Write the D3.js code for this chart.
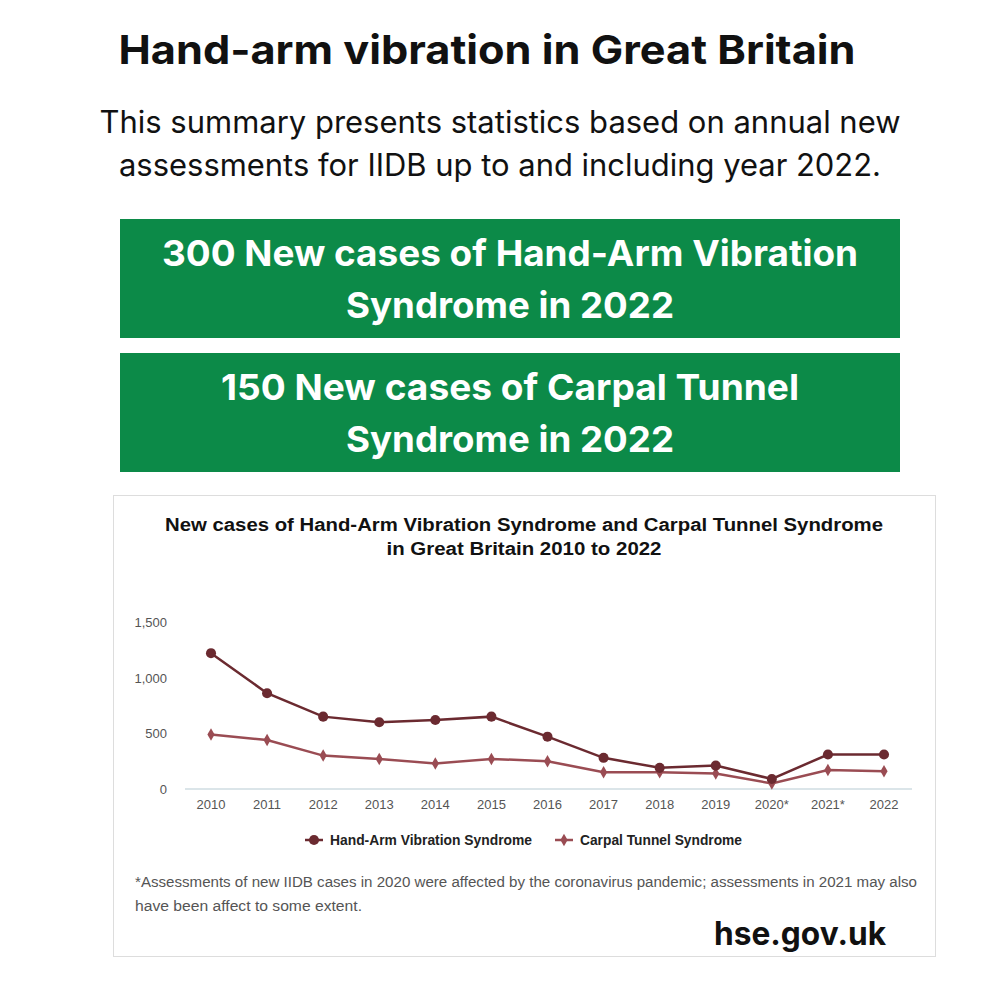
<!DOCTYPE html>
<html><head><meta charset="utf-8">
<script src="https://cdn.jsdelivr.net/npm/d3@7"></script>
<style>body{margin:0;background:#fff}</style>
</head><body>
<svg id="c" width="1000" height="1000"></svg>
<script>
var years = ["2010","2011","2012","2013","2014","2015","2016","2017","2018","2019","2020*","2021*","2022"];
var havs = [1220,860,650,600,620,650,470,280,190,210,90,310,310];
var cts = [490,440,300,270,230,270,250,150,150,140,50,170,160];
var yTicks = [0,500,1000,1500];

var svg = d3.select("#c");
var font = "Inter, 'Open Sans', sans-serif";
var cf = "'Liberation Sans', Arial, sans-serif";

function txt(x, y, s, size, opts) {
	opts = opts || {};
	var t = svg.append("text").attr("x", x).attr("y", y).attr("text-anchor", opts.anchor || "middle")
		.attr("font-family", opts.family || font).attr("font-weight", opts.weight || 400)
		.attr("font-size", size).attr("fill", opts.fill || "#111").text(s);
	if(opts.len) t.attr("textLength", opts.len).attr("lengthAdjust", "spacingAndGlyphs");
	return t;
}

txt(487, 64, "Hand-arm vibration in Great Britain", 40, { weight: 700, len: 737 });
txt(500, 133, "This summary presents statistics based on annual new", 31, { len: 801 });
txt(500, 176, "assessments for IIDB up to and including year 2022.", 31, { len: 762 });

var boxes = [
	{ y: 219, lines: ["300 New cases of Hand-Arm Vibration", "Syndrome in 2022"], lens: [696, 328] },
	{ y: 353, lines: ["150 New cases of Carpal Tunnel", "Syndrome in 2022"], lens: [578, 328] }
];
boxes.forEach(function(b) {
	svg.append("rect").attr("x", 120).attr("y", b.y).attr("width", 780).attr("height", 119).attr("fill", "#0c8a48");
	b.lines.forEach(function(t, i) {
		txt(510, b.y + 47 + i * 52, t, 36, { weight: 700, fill: "#fff", len: b.lens[i] });
	});
});

// chart panel
svg.append("rect").attr("x", 113.5).attr("y", 495.5).attr("width", 822).attr("height", 461).attr("fill", "#fff").attr("stroke", "#ddd");
txt(524, 531, "New cases of Hand-Arm Vibration Syndrome and Carpal Tunnel Syndrome", 18, { family: cf, weight: 700, len: 718 });
txt(524, 555, "in Great Britain 2010 to 2022", 18, { family: cf, weight: 700, len: 275 });

var x = d3.scalePoint().domain(years).range([211, 884]);
var y = d3.scaleLinear().domain([0, 1500]).range([789, 622]);

svg.append("line").attr("x1", 185).attr("x2", 912).attr("y1", y(0)).attr("y2", y(0)).attr("stroke", "#cfdde2").attr("stroke-width", 1.5);
yTicks.forEach(function(t) {
	txt(167, y(t) + 5, d3.format(",")(t), 13, { family: cf, anchor: "end", fill: "#555" });
});
years.forEach(function(t) {
	txt(x(t), 809, t, 13, { family: cf, fill: "#555" });
});

var series = [
	{ name: "Hand-Arm Vibration Syndrome", data: havs, color: "#6b2a30", sym: d3.symbolCircle, size: 80 },
	{ name: "Carpal Tunnel Syndrome", data: cts, color: "#9a4c53", sym: d3.symbolDiamond, size: 45 }
];
var line = d3.line().x(function(d, i) { return x(years[i]); }).y(function(d) { return y(d); });
series.slice().reverse().forEach(function(s) {
	svg.append("path").attr("d", line(s.data)).attr("fill", "none").attr("stroke", s.color).attr("stroke-width", 2.5);
	svg.selectAll(null).data(s.data).enter().append("path")
		.attr("d", d3.symbol().type(s.sym).size(s.size))
		.attr("transform", function(d, i) { return "translate(" + x(years[i]) + "," + y(d) + ")"; })
		.attr("fill", s.color);
});

// legend
var lx = [314, 564];
var ll = [202, 162];
series.forEach(function(s, i) {
	svg.append("line").attr("x1", lx[i] - 9).attr("x2", lx[i] + 9).attr("y1", 840).attr("y2", 840).attr("stroke", s.color).attr("stroke-width", 2.5);
	svg.append("path").attr("d", d3.symbol().type(s.sym).size(s.size)()).attr("transform", "translate(" + lx[i] + ",840)").attr("fill", s.color);
	txt(lx[i] + 16, 845, s.name, 14, { family: cf, weight: 700, anchor: "start", fill: "#222", len: ll[i] });
});

txt(135, 887, "*Assessments of new IIDB cases in 2020 were affected by the coronavirus pandemic; assessments in 2021 may also", 14, { family: cf, anchor: "start", fill: "#555", len: 782 });
txt(135, 911, "have been affect to some extent.", 14, { family: cf, anchor: "start", fill: "#555", len: 227 });
txt(800, 945, "hse.gov.uk", 32, { weight: 700, len: 172 });
</script>
</body></html>
